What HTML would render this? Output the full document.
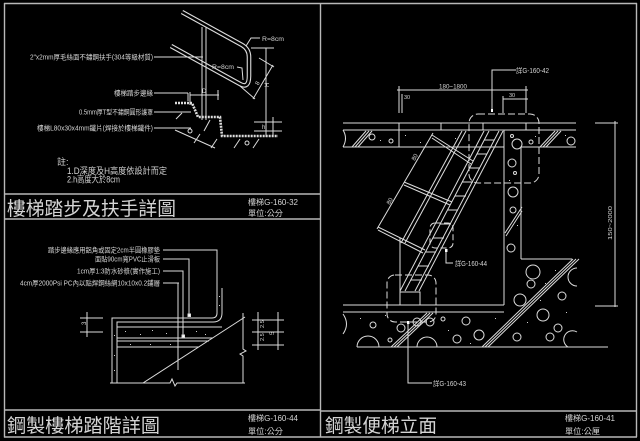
<!DOCTYPE html>
<html><head><meta charset="utf-8">
<style>
html,body{margin:0;padding:0;background:#000;}
svg{display:block}
text{font-family:"Liberation Sans","Noto Sans CJK TC",sans-serif;fill:#d4d4d4}
</style></head><body>
<svg width="640" height="441" viewBox="0 0 640 441" xmlns="http://www.w3.org/2000/svg">
<rect width="640" height="441" fill="#000"/>

<!-- FRAMES -->
<g stroke="#b8b8b8" stroke-width="1.4" fill="none">
  <line x1="4" y1="3.5" x2="637" y2="3.5"/>
  <line x1="4.5" y1="3" x2="4.5" y2="437.5"/>
  <line x1="320.5" y1="3" x2="320.5" y2="437.5"/>
  <line x1="636.5" y1="3" x2="636.5" y2="437"/>
  <line x1="4" y1="437" x2="637" y2="437"/>
  <line x1="4" y1="194" x2="320" y2="194"/>
  <line x1="4" y1="219" x2="320" y2="219"/>
  <line x1="4" y1="410" x2="320" y2="410"/>
  <line x1="320" y1="411" x2="637" y2="411"/>
</g>

<!-- TITLES -->
<text x="7" y="215" font-size="19" textLength="169" lengthAdjust="spacingAndGlyphs">樓梯踏步及扶手詳圖</text>
<text x="248" y="205" font-size="8" textLength="50" lengthAdjust="spacingAndGlyphs">樓梯G-160-32</text>
<text x="248" y="216" font-size="8" textLength="35" lengthAdjust="spacingAndGlyphs">單位:公分</text>

<text x="7" y="432" font-size="19" textLength="153" lengthAdjust="spacingAndGlyphs">鋼製樓梯踏階詳圖</text>
<text x="248" y="421" font-size="8" textLength="50" lengthAdjust="spacingAndGlyphs">樓梯G-160-44</text>
<text x="248" y="434" font-size="8" textLength="35" lengthAdjust="spacingAndGlyphs">單位:公分</text>

<text x="325" y="432" font-size="19" textLength="112" lengthAdjust="spacingAndGlyphs">鋼製便梯立面</text>
<text x="565" y="421" font-size="8" textLength="50" lengthAdjust="spacingAndGlyphs">樓梯G-160-41</text>
<text x="565" y="434" font-size="8" textLength="35" lengthAdjust="spacingAndGlyphs">單位:公厘</text>

<!-- ============ TOP-LEFT PANEL ============ -->
<!-- handrail tube (double line) -->
<path d="M182,12 L242,45 Q249,49 249,57 L249,76 Q249,89 240,84 L171,46" stroke="#dcdcdc" stroke-width="4.6" fill="none"/>
<path d="M182,12 L242,45 Q249,49 249,57 L249,76 Q249,89 240,84 L171,46" stroke="#000" stroke-width="2.4" fill="none"/>
<g stroke="#dcdcdc" stroke-width="1" fill="none">
  <!-- post -->
  <line x1="202" y1="27" x2="202" y2="120"/>
  <line x1="206" y1="27" x2="206" y2="120"/>
  <!-- label leaders -->
  <line x1="154" y1="57" x2="203" y2="57"/>
  <line x1="154" y1="93" x2="188" y2="93"/>
  <line x1="188" y1="93" x2="188" y2="101"/>
  <line x1="154" y1="112" x2="191" y2="112"/>
  <line x1="154" y1="128" x2="191" y2="128"/>
  <!-- R=8cm leaders -->
  <polyline points="246,46 251,38 260,38"/>
  <polyline points="237,67 242,68 243,80"/>
  <!-- right vertical & ticks -->
  <line x1="266" y1="48" x2="266" y2="137"/>
  <line x1="251" y1="48" x2="274" y2="48"/>
  <!-- diagonal H dim -->
  <line x1="273" y1="65" x2="253" y2="99"/>
  <line x1="240" y1="86" x2="255" y2="99"/>
  <line x1="259" y1="58" x2="274" y2="67"/>
  <!-- D dim -->
  <line x1="190" y1="95" x2="219" y2="95"/>
  <line x1="190" y1="92" x2="190" y2="105"/>
  <line x1="218" y1="90" x2="218" y2="100"/>
  <!-- h dim -->
  <line x1="254" y1="122" x2="282" y2="122"/>
  <line x1="254" y1="131" x2="282" y2="131"/>
  <line x1="273" y1="117" x2="273" y2="136"/>
  <!-- slab edge & hatch -->
  <line x1="175" y1="130" x2="215" y2="148"/>
  <line x1="182" y1="113" x2="176" y2="119"/>
  <line x1="210" y1="120" x2="204" y2="131"/>
  <line x1="200" y1="134" x2="194" y2="143"/>
  <line x1="217" y1="139" x2="211" y2="148"/>
  <line x1="240" y1="139" x2="234" y2="148"/>
  <line x1="259" y1="139" x2="253" y2="148"/>
  <circle cx="190" cy="131" r="2"/>
  <circle cx="247" cy="143" r="2"/>
</g>
<!-- steps hatched plates -->
<polyline points="175,103 192,103 198,117 220,117 222,136 278,136" stroke="#dcdcdc" stroke-width="2.6" stroke-dasharray="2 1" fill="none"/>
<text x="262" y="41" font-size="6" textLength="22" lengthAdjust="spacingAndGlyphs">R=8cm</text>
<text x="212" y="69" font-size="6" textLength="22" lengthAdjust="spacingAndGlyphs">R=8cm</text>
<text x="202" y="93" font-size="6">D</text>
<text x="255" y="84" font-size="6" transform="rotate(-60 258 82)">8</text>
<text x="265" y="87" font-size="6" transform="rotate(-90 267 85)">H</text>
<text x="262" y="129" font-size="6">h</text>

<text x="153" y="59.5" font-size="7" text-anchor="end" textLength="123" lengthAdjust="spacingAndGlyphs">2"x2mm厚毛絲面不鏽鋼扶手(304等級材質)</text>
<text x="153" y="95.5" font-size="7" text-anchor="end" textLength="39" lengthAdjust="spacingAndGlyphs">樓梯踏步邊緣</text>
<text x="153" y="114.5" font-size="7" text-anchor="end" textLength="74" lengthAdjust="spacingAndGlyphs">0.5mm厚T型不鏽鋼圓形護罩</text>
<text x="153" y="130.5" font-size="7" text-anchor="end" textLength="116" lengthAdjust="spacingAndGlyphs">樓梯L80x30x4mm鐵片(焊接於樓梯鐵件)</text>

<text x="57" y="165" font-size="9">註:</text>
<text x="67" y="174" font-size="9" textLength="100" lengthAdjust="spacingAndGlyphs">1.D深度及H高度依設計而定</text>
<text x="67" y="182.5" font-size="9" textLength="53" lengthAdjust="spacingAndGlyphs">2.h高度大於8cm</text>

<!-- ============ BOTTOM-LEFT PANEL ============ -->
<text x="160" y="252.5" font-size="7" text-anchor="end" textLength="112" lengthAdjust="spacingAndGlyphs">踏步邊緣應用鋁角或固定2cm半圓橡膠墊</text>
<text x="160" y="261.5" font-size="7" text-anchor="end" textLength="65" lengthAdjust="spacingAndGlyphs">面貼90cm寬PVC止滑板</text>
<text x="160" y="273.5" font-size="7" text-anchor="end" textLength="83" lengthAdjust="spacingAndGlyphs">1cm厚1:3防水砂漿(實作施工)</text>
<text x="160" y="285.5" font-size="7" text-anchor="end" textLength="140" lengthAdjust="spacingAndGlyphs">4cm厚2000Psi PC內以點焊鋼絲網10x10x0.2鋪層</text>
<g stroke="#dcdcdc" stroke-width="1" fill="none">
  <polyline points="163,250 217,250 217,288"/>
  <polyline points="163,259 189,259 189,316"/>
  <polyline points="163,271 183,271 183,337"/>
  <polyline points="163,283 179,283"/>
  <line x1="178" y1="283" x2="178" y2="370"/>
  <!-- tread pan -->
  <path d="M112,383 L112,318 L212,318 Q217,318 217,313 L217,288"/>
  <path d="M117,383 L117,322 L213,322 Q222,322 222,313 L222,288"/>
  <line x1="117" y1="327" x2="222" y2="327"/>
  <line x1="117" y1="338" x2="213" y2="338"/>
  <line x1="117" y1="341" x2="209" y2="341"/>
  <line x1="117" y1="347" x2="199" y2="347"/>
  <!-- diagonal -->
  <line x1="143" y1="383" x2="245" y2="317"/>
  <!-- bottom with break -->
  <polyline points="110,383 170,383 172,379 175,386 177,383 245,383"/>
  <!-- right vertical with break -->
  <polyline points="243,313 243,349 246,351 240,354 243,356 243,383"/>
  <!-- left dim -->
  <line x1="87" y1="312" x2="87" y2="337"/>
  <line x1="80" y1="318" x2="103" y2="318"/>
  <line x1="80" y1="332" x2="103" y2="332"/>
  <!-- right dims -->
  <line x1="258" y1="312" x2="258" y2="350"/>
  <line x1="278" y1="312" x2="278" y2="350"/>
  <line x1="252" y1="320" x2="284" y2="320"/>
  <line x1="252" y1="332" x2="284" y2="332"/>
  <line x1="252" y1="345" x2="284" y2="345"/>
  <rect x="182" y="335" width="2.5" height="2.5" fill="#fff"/>
  <rect x="188" y="314" width="2.5" height="2.5" fill="#fff"/>
</g>
<!-- hatching dots in bottom-left layers -->
<g fill="#cfcfcf">
  <rect x="125" y="331" width="1" height="1"/><rect x="140" y="334" width="1" height="1"/>
  <rect x="152" y="330" width="1" height="1"/><rect x="166" y="333" width="1" height="1"/>
  <rect x="196" y="331" width="1" height="1"/><rect x="205" y="334" width="1" height="1"/>
  <rect x="130" y="344" width="1" height="1"/><rect x="150" y="344" width="1" height="1"/>
  <rect x="170" y="344" width="1" height="1"/><rect x="114" y="335" width="1" height="1"/>
  <rect x="114" y="355" width="1" height="1"/><rect x="114" y="370" width="1" height="1"/>
  <rect x="219" y="296" width="1" height="1"/><rect x="219" y="305" width="1" height="1"/>
</g>
<text x="84" y="327" font-size="6" transform="rotate(-90 84 325)">3</text>
<text x="260" y="328" font-size="5.5" transform="rotate(-90 262 326)">2.5</text>
<text x="260" y="341" font-size="5.5" transform="rotate(-90 262 339)">2.5</text>
<text x="270" y="335" font-size="6" transform="rotate(-90 272 333)">5</text>

<!-- ============ RIGHT PANEL ============ -->
<g stroke="#dcdcdc" stroke-width="1" fill="none">
  <!-- slab -->
  <line x1="343" y1="123" x2="576" y2="123"/>
  <line x1="343" y1="130" x2="576" y2="130"/>
  <line x1="343" y1="147" x2="504" y2="147"/>
  <line x1="521" y1="147" x2="576" y2="147"/>
  <path d="M343,130 Q348,138 343,147"/>
  <line x1="399" y1="123" x2="399" y2="147"/>
  <line x1="441" y1="123" x2="441" y2="130"/>
  <line x1="483" y1="123" x2="483" y2="130"/>
  <line x1="526" y1="123" x2="526" y2="130"/>
  <!-- slab hatch -->
  <line x1="352" y1="147" x2="366" y2="131"/>
  <line x1="355" y1="147" x2="369" y2="131"/>
  <line x1="358" y1="147" x2="372" y2="131"/>
  <line x1="540" y1="147" x2="555" y2="131"/>
  <line x1="543" y1="147" x2="558" y2="131"/>
  <line x1="546" y1="147" x2="561" y2="131"/>
  <!-- column -->
  <line x1="504" y1="130" x2="504" y2="305"/>
  <line x1="521" y1="147" x2="521" y2="259"/>
  <line x1="521" y1="259" x2="572" y2="259"/>
  <line x1="522" y1="207" x2="505" y2="233"/>
  <line x1="522" y1="211" x2="506" y2="236"/>
  <!-- floor -->
  <line x1="343" y1="305" x2="504" y2="305"/>
  <line x1="343" y1="312" x2="504" y2="312"/>
  <line x1="357" y1="347" x2="608" y2="347"/>
  <path d="M343,314 Q350,324 343,334"/>
  <!-- big diagonal triple -->
  <line x1="573" y1="259" x2="482" y2="347"/>
  <line x1="576" y1="259" x2="485" y2="347"/>
  <line x1="579" y1="259" x2="488" y2="347"/>
  <!-- small diagonal triple -->
  <line x1="427" y1="313" x2="391" y2="347"/>
  <line x1="430" y1="313" x2="394" y2="347"/>
  <line x1="433" y1="313" x2="397" y2="347"/>
  <!-- right dimension -->
  <line x1="615" y1="121" x2="615" y2="307"/>
  <line x1="595" y1="123" x2="618" y2="123"/>
  <line x1="595" y1="306" x2="618" y2="306"/>
  <!-- top dims -->
  <line x1="397" y1="90" x2="528" y2="90"/>
  <line x1="399" y1="86" x2="399" y2="113"/>
  <line x1="402" y1="94" x2="402" y2="113"/>
  <line x1="526" y1="86" x2="526" y2="113"/>
  <line x1="503" y1="99" x2="528" y2="99"/>
  <line x1="503" y1="96" x2="503" y2="113"/>
  <polyline points="516,70 492,70 492,112"/>
  <!-- dashed bubbles -->
  <rect x="469" y="114" width="70" height="69" rx="9" stroke-dasharray="7 3"/>
  <rect x="430" y="223" width="23" height="25" rx="5" stroke-dasharray="6 3"/>
  <rect x="387" y="275" width="49" height="47" rx="8" stroke-dasharray="7 3"/>
  <!-- ladder -->
  <line x1="484" y1="131" x2="400" y2="291"/>
  <line x1="489" y1="131" x2="405" y2="291"/>
  <line x1="499" y1="131" x2="415" y2="291"/>
  <line x1="503" y1="131" x2="419" y2="291"/>
  <!-- handrail -->
  <line x1="462" y1="131" x2="401" y2="243"/>
  <line x1="466" y1="131" x2="405" y2="243"/>
  <line x1="400" y1="238" x2="400" y2="305"/>
  <polyline points="400,292 420,292 420,305"/>
  <!-- dimension parallel -->
  <line x1="433" y1="133" x2="377" y2="229"/>
  <line x1="432" y1="135" x2="473" y2="161"/>
  <line x1="432" y1="138" x2="471" y2="164"/>
  <line x1="404" y1="182" x2="452" y2="202"/>
  <line x1="404" y1="185" x2="450" y2="205"/>
  <line x1="378" y1="227" x2="425" y2="250"/>
  <line x1="378" y1="230" x2="423" y2="253"/>
  <!-- leaders -->
  <polyline points="446,250 446,263 453,263"/>
  <polyline points="408,322 408,383 432,383"/>
  <!-- circles slab/column -->
  <circle cx="372" cy="137" r="3"/>
  <circle cx="391" cy="141" r="2"/>
  <circle cx="512" cy="136" r="1.5"/>
  <circle cx="517" cy="144" r="5"/>
  <circle cx="531" cy="142" r="2"/>
  <circle cx="571" cy="141" r="4"/>
  <circle cx="512" cy="163" r="4"/>
  <circle cx="515" cy="173" r="1.5"/>
  <circle cx="513" cy="192" r="5"/>
  <circle cx="513" cy="210" r="3"/>
  <circle cx="511" cy="248" r="4"/>
  <!-- right concrete -->
  <circle cx="533" cy="272" r="7"/>
  <circle cx="531" cy="284" r="4"/>
  <circle cx="520" cy="300" r="6"/>
  <circle cx="562" cy="296" r="4"/>
  <circle cx="543" cy="315" r="6"/>
  <circle cx="558" cy="328" r="4"/>
  <circle cx="550" cy="337" r="4"/>
  <circle cx="517" cy="337" r="4"/>
  <path d="M577,268 A8,8 0 0,0 577,286"/>
  <path d="M577,332 A7,7 0 0,0 568,347"/>
  <!-- bottom concrete -->
  <circle cx="373" cy="325" r="3"/>
  <circle cx="401" cy="328" r="4"/>
  <circle cx="417" cy="322" r="4"/>
  <circle cx="430" cy="322" r="4"/>
  <circle cx="443" cy="319" r="2"/>
  <circle cx="457" cy="339" r="4"/>
  <circle cx="466" cy="321" r="4"/>
  <circle cx="479" cy="335" r="5"/>
  <circle cx="390" cy="340" r="2"/>
  <path d="M357,347 A11,11 0 0,1 379,347"/>
  <path d="M417,347 A10,10 0 0,1 437,347"/>
</g>
<!-- rungs -->
<g stroke="#dcdcdc" stroke-width="1">
  <line x1="484" y1="140" x2="494" y2="140"/>
  <line x1="477" y1="154" x2="487" y2="154"/>
  <line x1="470" y1="168" x2="480" y2="168"/>
  <line x1="462" y1="182" x2="473" y2="182"/>
  <line x1="455" y1="196" x2="466" y2="196"/>
  <line x1="448" y1="210" x2="458" y2="210"/>
  <line x1="440" y1="224" x2="451" y2="224"/>
  <line x1="433" y1="238" x2="444" y2="238"/>
  <line x1="426" y1="252" x2="436" y2="252"/>
  <line x1="418" y1="266" x2="429" y2="266"/>
  <line x1="411" y1="280" x2="422" y2="280"/>
</g>
<g fill="#fff">
  <rect x="445" y="249" width="2.5" height="3"/>
  <rect x="407" y="321" width="2.5" height="3"/>
  <rect x="491" y="109" width="2" height="3"/>
</g>
<!-- concrete dots -->
<g fill="#cfcfcf">
  <rect x="380" y="140" width="1" height="1"/><rect x="405" y="135" width="1" height="1"/>
  <rect x="420" y="142" width="1" height="1"/><rect x="455" y="138" width="1" height="1"/>
  <rect x="535" y="136" width="1" height="1"/><rect x="565" y="135" width="1" height="1"/>
  <rect x="509" y="180" width="1" height="1"/><rect x="517" y="225" width="1" height="1"/>
  <rect x="545" y="283" width="1" height="1"/><rect x="555" y="270" width="1" height="1"/>
  <rect x="527" y="322" width="1" height="1"/><rect x="566" y="312" width="1" height="1"/>
  <rect x="360" y="318" width="1" height="1"/><rect x="385" y="315" width="1" height="1"/>
  <rect x="448" y="330" width="1" height="1"/><rect x="470" y="343" width="1" height="1"/>
  <rect x="495" y="318" width="1" height="1"/><rect x="540" y="300" width="1" height="1"/>
</g>
<text x="516" y="73" font-size="7" textLength="33" lengthAdjust="spacingAndGlyphs">詳G-160-42</text>
<text x="453" y="88.5" font-size="6" text-anchor="middle" textLength="28" lengthAdjust="spacingAndGlyphs">180~1800</text>
<text x="404" y="99" font-size="5.5">30</text>
<text x="509" y="97" font-size="5.5">30</text>
<text x="455" y="266" font-size="7" textLength="32" lengthAdjust="spacingAndGlyphs">詳G-160-44</text>
<text x="433" y="386" font-size="7" textLength="33" lengthAdjust="spacingAndGlyphs">詳G-160-43</text>
<text x="413" y="162" font-size="6" transform="rotate(-60 413 160)">80</text>
<text x="388" y="206" font-size="6" transform="rotate(-60 388 204)">80</text>
<text x="612" y="240" font-size="5.5" transform="rotate(-90 612 240)" textLength="34" lengthAdjust="spacingAndGlyphs">150~2000</text>
</svg>
</body></html>
